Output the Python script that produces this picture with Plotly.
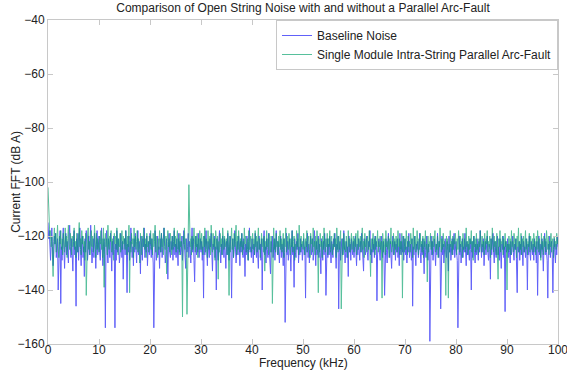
import plotly.graph_objects as go

title_text = "Comparison of Open String Noise with and without a Parallel Arc-Fault"
x_title = "Frequency (kHz)"
y_title = "Current FFT (dB A)"
series_names = ["Baseline Noise", "Single Module Intra-String Parallel Arc-Fault"]

freq_start_khz = 0
freq_step_khz = 0.125

baseline_db = [
    -115, -121, -118, -126, -129, -122, -117, -124, -131, -127, -120, -123, -119, -128, -125, -121, -140, -126, -122, -118,
    -145, -124, -129, -121, -117, -125, -132, -123, -119, -127, -122, -126, -130, -120, -116, -124, -128, -121, -125, -133,
    -122, -118, -127, -124, -146, -121, -126, -119, -129, -123, -117, -125, -131, -122, -120, -128, -124, -135, -121, -126,
    -118, -123, -129, -125, -120, -127, -122, -116, -124, -130, -126, -121, -128, -119, -125, -132, -123, -118, -127, -124,
    -120, -126, -129, -122, -117, -125, -131, -124, -121, -127, -154, -123, -118, -126, -130, -121, -125, -128, -119, -124,
    -133, -122, -127, -120, -125, -154, -123, -129, -118, -126, -121, -124, -130, -127, -119, -123, -128, -122, -136, -125,
    -121, -127, -118, -124, -141, -123, -126, -120, -129, -125, -117, -122, -128, -124, -131, -121, -126, -119, -125, -130,
    -123, -118, -127, -122, -125, -134, -120, -126, -129, -121, -124, -117, -128, -123, -126, -120, -131, -125, -122, -127,
    -119, -124, -128, -121, -126, -130, -154, -122, -118, -125, -129, -123, -120, -127, -124, -132, -121, -126, -119, -128,
    -125, -122, -117, -124, -130, -127, -121, -125, -136, -123, -119, -126, -128, -122, -125, -120, -129, -124, -118, -127,
    -123, -128, -121, -125, -131, -119, -126, -122, -127, -124, -120, -129, -125, -118, -123, -127, -132, -121, -126, -124,
    -119, -128, -122, -125, -130, -123, -117, -126, -121, -129, -137, -124, -120, -127, -123, -126, -119, -128, -125, -121,
    -126, -122, -129, -124, -143, -120, -127, -123, -118, -125, -131, -122, -126, -128, -121, -124, -119, -127, -133, -123,
    -125, -120, -128, -124, -140, -121, -126, -129, -122, -118, -125, -130, -123, -127, -120, -124, -128, -121, -126, -132,
    -122, -127, -119, -125, -129, -123, -120, -126, -143, -124, -121, -128, -125, -118, -123, -130, -126, -122, -127, -120,
    -124, -131, -122, -126, -119, -125, -128, -121, -124, -135, -123, -127, -120, -125, -129, -122, -117, -126, -124, -128,
    -121, -125, -130, -123, -127, -119, -124, -128, -122, -126, -132, -120, -125, -123, -129, -121, -140, -126, -122, -118,
    -127, -124, -130, -121, -125, -128, -119, -123, -127, -134, -122, -126, -120, -128, -124, -121, -129, -125, -118, -123,
    -127, -122, -126, -130, -124, -120, -128, -123, -125, -131, -121, -126, -152, -124, -119, -127, -122, -129, -125, -121,
    -126, -133, -123, -118, -127, -124, -139, -121, -126, -128, -122, -125, -119, -130, -124, -127, -121, -126, -123, -129,
    -125, -121, -127, -124, -143, -122, -126, -119, -128, -123, -130, -125, -120, -127, -124, -121, -129, -126, -118, -124,
    -131, -122, -127, -125, -120, -128, -123, -126, -134, -121, -125, -129, -122, -127, -119, -124, -142, -126, -121, -128,
    -123, -127, -120, -125, -130, -122, -126, -128, -121, -124, -119, -127, -132, -123, -125, -120, -147, -126, -122, -129,
    -124, -121, -127, -125, -118, -123, -130, -126, -122, -128, -124, -135, -120, -126, -123, -129, -121, -125, -127, -122,
    -128, -124, -120, -126, -131, -123, -127, -121, -125, -129, -122, -126, -119, -124, -128, -133, -121, -125, -127, -123,
    -120, -126, -129, -122, -124, -118, -127, -125, -130, -121, -126, -123, -128, -120, -125, -122, -144, -127, -124, -121,
    -126, -129, -123, -120, -125, -128, -122, -127, -142, -124, -121, -126, -130, -123, -119, -125, -128, -122, -126, -132,
    -124, -120, -127, -125, -122, -129, -123, -126, -121, -128, -124, -131, -119, -125, -127, -122, -126, -120, -129, -124,
    -121, -127, -124, -130, -122, -126, -119, -128, -125, -123, -129, -121, -146, -124, -127, -120, -126, -131, -123, -125,
    -122, -128, -124, -119, -126, -130, -123, -127, -121, -125, -134, -122, -126, -128, -120, -124, -129, -123, -126, -159,
    -124, -120, -127, -122, -129, -125, -121, -126, -131, -123, -127, -119, -125, -128, -122, -126, -147, -124, -120, -127,
    -123, -130, -125, -121, -126, -128, -122, -124, -133, -120, -126, -123, -129, -125, -121, -127, -124, -119, -128, -126,
    -122, -126, -129, -154, -124, -120, -127, -123, -130, -125, -121, -128, -124, -126, -119, -125, -131, -122, -127, -123,
    -126, -129, -121, -125, -140, -122, -128, -124, -120, -126, -130, -123, -127, -121, -125, -129, -122, -126, -118, -124,
    -128, -123, -126, -121, -131, -125, -122, -127, -124, -120, -126, -129, -123, -125, -136, -121, -127, -124, -119, -126,
    -130, -122, -125, -128, -123, -120, -127, -124, -129, -121, -126, -132, -123, -125, -120, -128, -124, -148, -122, -126,
    -125, -121, -128, -123, -126, -130, -122, -127, -124, -120, -126, -129, -123, -125, -121, -128, -141, -124, -126, -122,
    -129, -123, -127, -120, -125, -131, -122, -126, -124, -128, -121, -125, -140, -123, -127, -120, -126, -129, -122, -125,
    -127, -123, -129, -121, -126, -124, -130, -122, -142, -125, -120, -127, -123, -128, -125, -121, -126, -133, -124, -119,
    -127, -122, -126, -129, -143, -123, -125, -120, -128, -124, -122, -127, -141, -125, -121, -126, -130, -123, -127, -120,
    -124,
]

arcfault_db = [
    -102, -108, -115, -121, -118, -124, -120, -127, -135, -122, -117, -123, -119, -126, -121, -116, -124, -128, -120, -123,
    -118, -125, -121, -127, -119, -122, -126, -117, -124, -120, -128, -121, -116, -123, -125, -119, -122, -127, -120, -124,
    -121, -117, -125, -122, -128, -119, -123, -126, -120, -115, -124, -121, -127, -118, -123, -120, -126, -122, -129, -119,
    -142, -124, -120, -117, -125, -122, -127, -121, -118, -124, -120, -126, -123, -116, -122, -128, -119, -125, -121, -124,
    -126, -120, -123, -118, -125, -121, -128, -117, -139, -122, -119, -124, -121, -127, -116, -123, -125, -120, -122, -118,
    -126, -121, -124, -129, -119, -123, -120, -125, -117, -122, -127, -121, -124, -119, -126, -122, -118, -125, -120, -123,
    -121, -125, -118, -123, -127, -120, -124, -116, -141, -122, -126, -119, -123, -121, -128, -117, -124, -120, -125, -122,
    -118, -126, -121, -124, -130, -119, -122, -127, -120, -124, -117, -123, -125, -121, -128, -119, -124, -122, -126, -120,
    -123, -118, -125, -121, -127, -119, -124, -122, -116, -126, -120, -123, -128, -121, -125, -118, -122, -126, -119, -124,
    -121, -127, -117, -123, -125, -120, -134, -122, -118, -124, -121, -126, -119, -123, -127, -120, -125, -122, -117, -124,
    -120, -126, -122, -118, -125, -121, -127, -119, -124, -122, -126, -150, -120, -123, -117, -125, -121, -128, -149, -122,
    -119, -101, -118, -124, -121, -127, -120, -125, -122, -117, -123, -126, -120, -124, -119, -128, -121, -125, -118, -123,
    -125, -119, -122, -127, -120, -124, -117, -126, -121, -123, -128, -118, -123, -125, -120, -127, -116, -122, -126, -119,
    -124, -121, -129, -118, -123, -125, -120, -136, -122, -126, -119, -124, -121, -127, -117, -123, -125, -120, -124, -122,
    -121, -127, -118, -124, -142, -120, -126, -122, -117, -125, -121, -128, -119, -124, -122, -116, -127, -120, -125, -118,
    -123, -126, -121, -124, -119, -127, -122, -125, -117, -123, -120, -126, -124, -121, -129, -118, -125, -122, -120, -126,
    -123, -119, -125, -121, -127, -118, -124, -120, -126, -122, -117, -125, -121, -128, -123, -119, -124, -121, -126, -120,
    -133, -122, -125, -118, -124, -121, -127, -119, -123, -126, -120, -124, -145, -122, -117, -125, -121, -126, -119, -124,
    -122, -127, -120, -124, -118, -125, -121, -126, -123, -119, -128, -121, -124, -117, -126, -122, -120, -125, -119, -123,
    -127, -121, -124, -118, -126, -122, -120, -129, -123, -125, -118, -124, -121, -127, -116, -123, -126, -120, -124, -122,
    -125, -119, -123, -127, -121, -124, -118, -126, -122, -120, -125, -128, -119, -123, -121, -126, -117, -124, -122, -127,
    -120, -125, -118, -123, -141, -121, -126, -119, -124, -122, -128, -120, -125, -117, -123, -126, -121, -124, -119, -127,
    -121, -124, -118, -126, -122, -120, -127, -123, -125, -119, -124, -121, -128, -117, -123, -126, -120, -125, -122, -118,
    -147, -124, -121, -127, -119, -125, -122, -126, -120, -123, -128, -118, -124, -121, -126, -122, -119, -125, -123, -120,
    -126, -121, -124, -119, -127, -122, -118, -125, -121, -124, -120, -126, -123, -117, -125, -122, -128, -119, -124, -121,
    -126, -120, -123, -125, -118, -124, -135, -121, -126, -122, -119, -125, -121, -127, -120, -123, -124, -118, -126, -122,
    -124, -120, -125, -122, -143, -119, -126, -121, -123, -127, -118, -124, -122, -125, -120, -128, -121, -123, -117, -126,
    -122, -124, -119, -127, -121, -125, -120, -123, -126, -118, -124, -121, -127, -122, -125, -119, -143, -123, -120, -126,
    -121, -125, -118, -123, -127, -120, -124, -122, -126, -119, -123, -121, -128, -117, -125, -122, -120, -126, -124, -118,
    -123, -127, -121, -125, -119, -124, -122, -126, -120, -128, -121, -124, -118, -125, -123, -137, -120, -126, -122, -124,
    -119, -125, -122, -127, -120, -124, -121, -118, -126, -123, -125, -120, -128, -122, -124, -117, -123, -126, -121, -125,
    -119, -124, -122, -127, -142, -120, -125, -121, -143, -123, -126, -118, -124, -122, -127, -120, -125, -121, -123, -119,
    -124, -127, -121, -125, -118, -123, -126, -120, -124, -122, -128, -119, -125, -121, -123, -126, -117, -124, -122, -127,
    -120, -125, -121, -123, -118, -126, -122, -129, -120, -124, -121, -126, -119, -125, -123, -127, -121, -124, -118, -122,
    -126, -120, -124, -122, -127, -119, -125, -121, -123, -118, -126, -122, -124, -120, -128, -121, -125, -117, -123, -126,
    -120, -124, -122, -127, -119, -125, -136, -121, -124, -118, -126, -122, -123, -120, -127, -121, -125, -119, -124, -122,
    -140, -123, -126, -120, -125, -121, -127, -118, -124, -122, -126, -119, -123, -125, -121, -128, -120, -124, -117, -126,
    -122, -125, -119, -127, -121, -124, -120, -126, -123, -118, -125, -121, -127, -122, -124, -119, -126, -120, -123, -125,
    -121, -126, -119, -124, -122, -127, -120, -125, -118, -123, -126, -121, -124, -129, -119, -125, -122, -127, -120, -124,
    -121, -126, -118, -123, -125, -120, -127, -122, -124, -119, -126, -121, -123, -128, -120, -124, -122, -125, -119, -123,
    -121,
]

x_ticks = [0, 10, 20, 30, 40, 50, 60, 70, 80, 90, 100]
y_ticks = [-40, -60, -80, -100, -120, -140, -160]

font_family = "Liberation Sans, Arial, sans-serif"
text_color = "#222222"
axis_color = "#c8c8c8"

fig = go.Figure()
fig.add_trace(go.Scatter(
    y=baseline_db, x0=freq_start_khz, dx=freq_step_khz, mode="lines",
    name=series_names[0], line=dict(color="rgb(0,0,245)", width=1), opacity=0.62,
))
fig.add_trace(go.Scatter(
    y=arcfault_db, x0=freq_start_khz, dx=freq_step_khz, mode="lines",
    name=series_names[1], line=dict(color="rgb(0,160,105)", width=1), opacity=0.66,
))

axis_common = dict(
    showline=True, linecolor=axis_color, linewidth=1, mirror="ticks",
    ticks="inside", ticklen=5, tickcolor=axis_color, showgrid=False, zeroline=False,
    automargin=False, ticklabeloverflow="allow",
    tickfont=dict(family=font_family, size=12, color=text_color),
)

fig.update_layout(
    width=567, height=375,
    margin=dict(l=48, r=9, t=20, b=31),
    paper_bgcolor="white", plot_bgcolor="white",
    font=dict(family=font_family, size=12, color=text_color),
    title=dict(text=title_text, x=0.5, xref="paper", xanchor="center",
               y=0.979, yref="container", yanchor="middle",
               font=dict(family=font_family, size=12, color=text_color)),
    xaxis=dict(range=[0, 100], tickvals=x_ticks, ticklabelstandoff=-5, **axis_common),
    yaxis=dict(range=[-160, -40], tickvals=y_ticks, **axis_common),
    legend=dict(x=1, y=1, xanchor="right", yanchor="top", bgcolor="white",
                bordercolor=axis_color, borderwidth=1,
                font=dict(family=font_family, size=12, color=text_color),
                tracegroupgap=0, itemwidth=30),
    showlegend=True,
    annotations=[
        dict(text=x_title, xref="paper", yref="paper", x=0.5, y=-0.0586,
             xanchor="center", yanchor="middle", showarrow=False,
             font=dict(family=font_family, size=12, color=text_color)),
        dict(text=y_title, xref="paper", yref="paper", x=-0.063, y=0.5,
             xanchor="center", yanchor="middle", textangle=-90, showarrow=False,
             font=dict(family=font_family, size=12, color=text_color)),
    ],
)

fig.write_html("out.html", config={"displayModeBar": False},
               post_script="document.body.style.margin='0';")
